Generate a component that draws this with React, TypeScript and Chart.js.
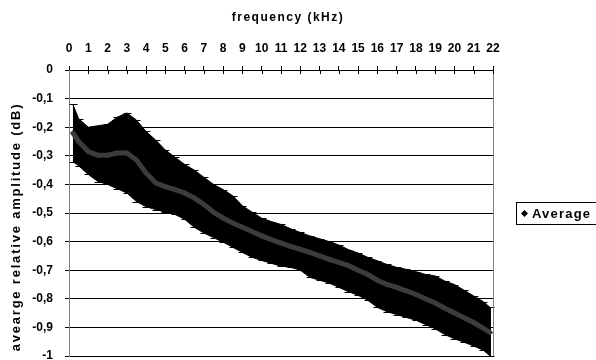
import React, { useEffect, useRef } from "react";
import { Chart, registerables } from "chart.js";
Chart.register(...registerables);

const freq = [0.2, 0.5, 1.0, 1.5, 2.0, 2.5, 3.0, 3.5, 4.0, 4.5, 5.0, 5.5, 6.0, 6.5, 7.0, 7.5, 8.0, 8.5, 9.0, 9.5, 10.0, 10.5, 11.0, 11.5, 12.0, 12.5, 13.0, 13.5, 14.0, 14.5, 15.0, 15.5, 16.0, 16.5, 17.0, 17.5, 18.0, 18.5, 19.0, 19.5, 20.0, 20.5, 21.0, 21.5, 21.85];
const average = [-0.22, -0.25, -0.285, -0.298, -0.298, -0.29, -0.29, -0.315, -0.36, -0.395, -0.408, -0.418, -0.43, -0.447, -0.47, -0.497, -0.518, -0.535, -0.55, -0.565, -0.58, -0.593, -0.605, -0.617, -0.627, -0.638, -0.65, -0.662, -0.673, -0.684, -0.7, -0.715, -0.735, -0.75, -0.76, -0.772, -0.785, -0.8, -0.815, -0.833, -0.85, -0.866, -0.883, -0.903, -0.918];
const upper = [-0.12, -0.17, -0.2, -0.195, -0.19, -0.165, -0.15, -0.175, -0.215, -0.245, -0.28, -0.305, -0.33, -0.35, -0.375, -0.4, -0.418, -0.44, -0.475, -0.497, -0.518, -0.53, -0.54, -0.555, -0.568, -0.58, -0.59, -0.6, -0.612, -0.628, -0.64, -0.655, -0.667, -0.68, -0.69, -0.697, -0.705, -0.715, -0.72, -0.738, -0.75, -0.77, -0.79, -0.81, -0.83];
const lower = [-0.32, -0.335, -0.365, -0.39, -0.4, -0.415, -0.43, -0.46, -0.478, -0.488, -0.497, -0.505, -0.522, -0.55, -0.57, -0.586, -0.602, -0.62, -0.638, -0.655, -0.666, -0.676, -0.686, -0.69, -0.7, -0.725, -0.735, -0.745, -0.76, -0.775, -0.788, -0.805, -0.83, -0.845, -0.855, -0.865, -0.875, -0.89, -0.905, -0.925, -0.94, -0.952, -0.965, -0.98, -1.0];

const xTitle = "frequency (kHz)";
const yTitle = "avearge relative amplitude (dB)";
const seriesName = "Average";

const FONT = "'Liberation Sans', Arial, sans-serif";

const extrasPlugin = {
  id: "extras",
  beforeDatasetDraw(chart: any, args: any) {
    if (args.index !== 0) return;
    const { ctx } = chart;
    const xs = chart.scales.x;
    const ys = chart.scales.y;
    ctx.save();
    ctx.strokeStyle = "#000";
    ctx.lineWidth = 1;
    for (let i = 0; i < freq.length; i++) {
      const px = Math.round(xs.getPixelForValue(freq[i])) + 0.5;
      const pt = Math.round(ys.getPixelForValue(upper[i])) + 0.5;
      const pb = Math.round(ys.getPixelForValue(lower[i])) + 0.5;
      ctx.beginPath();
      ctx.moveTo(px, pt);
      ctx.lineTo(px, pb);
      ctx.moveTo(px - 4, pt);
      ctx.lineTo(px + 4, pt);
      ctx.moveTo(px - 4, pb);
      ctx.lineTo(px + 4, pb);
      ctx.stroke();
    }
    ctx.restore();
  },
  afterDraw(chart: any) {
    const { ctx, chartArea } = chart;
    const xs = chart.scales.x;
    ctx.save();
    ctx.strokeStyle = "#808080";
    ctx.lineWidth = 1;
    ctx.beginPath();
    ctx.moveTo(Math.round(chartArea.right) + 0.5, chartArea.top);
    ctx.lineTo(Math.round(chartArea.right) + 0.5, chartArea.bottom);
    ctx.stroke();
    ctx.strokeStyle = "#000";
    ctx.beginPath();
    for (let v = 1; v <= 22; v++) {
      const px = Math.round(xs.getPixelForValue(v)) + 0.5;
      ctx.moveTo(px, chartArea.top);
      ctx.lineTo(px, chartArea.top + 4);
    }
    ctx.stroke();

    // axis titles (drawn here to allow letter spacing)
    ctx.fillStyle = "#000";
    ctx.textAlign = "center";
    ctx.textBaseline = "middle";
    try { (ctx as any).letterSpacing = "1.5px"; } catch (e) {}
    ctx.font = `bold 12px ${FONT}`;
    ctx.fillText(xTitle, 288, 18);
    try { (ctx as any).letterSpacing = "1.8px"; } catch (e) {}
    ctx.font = `bold 13px ${FONT}`;
    ctx.translate(16, 227);
    ctx.rotate(-Math.PI / 2);
    ctx.fillText(yTitle, 0, 0);
    ctx.restore();
  },
};

export default function App() {
  const ref = useRef<HTMLCanvasElement>(null);
  useEffect(() => {
    const chart = new Chart(ref.current as HTMLCanvasElement, {
      type: "line",
      data: {
        datasets: [
          {
            label: seriesName,
            data: freq.map((f, i) => ({ x: f, y: average[i] })),
            borderColor: "#3c3c3c",
            backgroundColor: "#3c3c3c",
            borderWidth: 5,
            pointStyle: "rectRot",
            pointRadius: 3,
            pointBorderWidth: 0,
            tension: 0,
          },
          {
            label: "upper",
            data: freq.map((f, i) => ({ x: f, y: upper[i] })),
            borderColor: "#000",
            borderWidth: 1,
            pointRadius: 0,
            fill: false,
          },
          {
            label: "lower",
            data: freq.map((f, i) => ({ x: f, y: lower[i] })),
            borderColor: "#000",
            backgroundColor: "#000",
            borderWidth: 1,
            pointRadius: 0,
            fill: "-1",
          },
        ],
      },
      options: {
        animation: false,
        responsive: true,
        maintainAspectRatio: false,
        layout: { padding: { top: 0, left: 4, right: 103, bottom: 3 } },
        plugins: { legend: { display: false }, tooltip: { enabled: false } },
        scales: {
          x: {
            type: "linear",
            position: "top",
            min: 0,
            max: 22,
            ticks: {
              stepSize: 1,
              color: "#000",
              padding: 10,
              maxRotation: 0,
              autoSkip: false,
              font: { family: FONT, size: 12, weight: "bold" },
            },
            grid: { drawOnChartArea: false, tickLength: 4, color: "#000" },
            border: { color: "#000", width: 1 },
            title: { display: false },
            afterFit: (s: any) => {
              s.height = 70;
            },
          },
          y: {
            min: -1,
            max: 0,
            ticks: {
              stepSize: 0.1,
              color: "#000",
              padding: 12,
              font: { family: FONT, size: 12, weight: "bold" },
              callback: (v: any) => String(Math.round(Number(v) * 10) / 10).replace(".", ","),
            },
            grid: { color: "#000", tickLength: 4 },
            border: { color: "#808080", width: 1 },
            title: { display: false },
            afterFit: (s: any) => {
              s.width = 65;
              s.paddingTop = 0;
              s.paddingBottom = 0;
            },
          },
        },
      },
      plugins: [extrasPlugin],
    } as any);
    return () => chart.destroy();
  }, []);
  return (
    <div style={{ position: "fixed", left: 0, top: 0, width: 596, height: 360, background: "#fff" }}>
      <canvas ref={ref} />
      <div
        style={{
          position: "absolute",
          left: 516,
          top: 202,
          width: 90,
          height: 23,
          border: "1px solid #000",
          boxSizing: "border-box",
          display: "flex",
          alignItems: "center",
          fontFamily: FONT,
          fontSize: 13,
          fontWeight: "bold",
          letterSpacing: "1.2px",
          color: "#000",
          whiteSpace: "nowrap",
        }}
      >
        <span style={{ display: "inline-block", width: 5, height: 5, background: "#000", transform: "rotate(45deg)", margin: "0 5px 0 5px" }} />
        <span>{seriesName}</span>
      </div>
    </div>
  );
}
